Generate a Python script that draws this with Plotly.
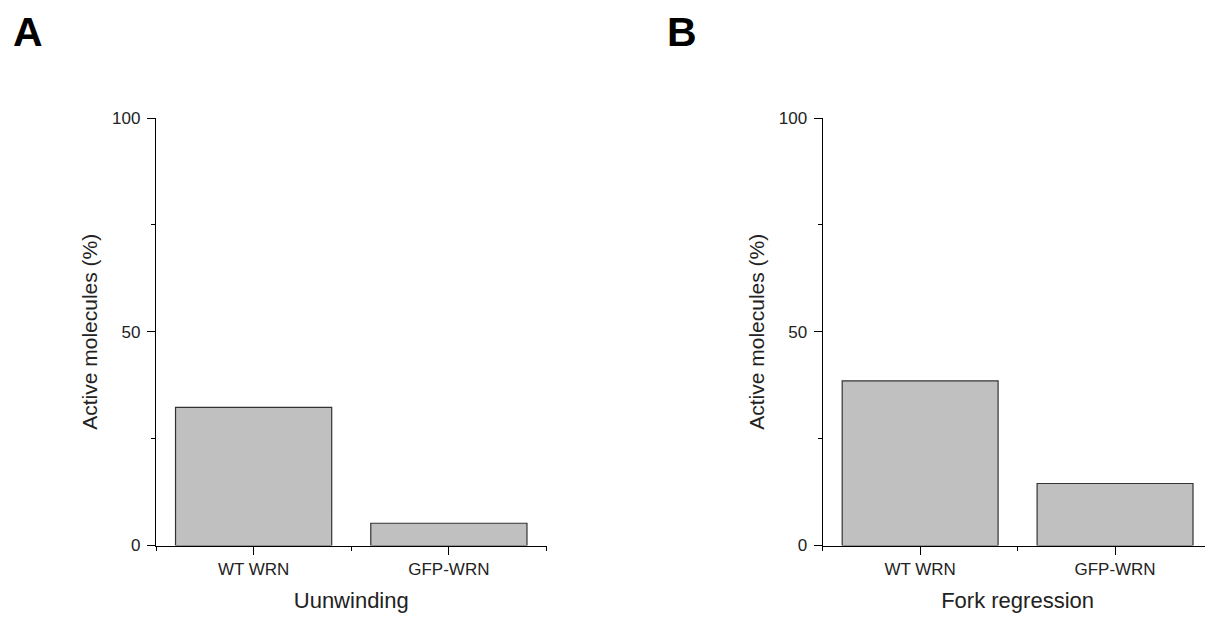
import plotly.graph_objects as go
from plotly.subplots import make_subplots

categories = ["WT WRN", "GFP-WRN"]
unwinding_values = [32.3, 5.2]
regression_values = [38.5, 14.5]
panel_titles = ["Uunwinding", "Fork regression"]
panel_letters = ["A", "B"]
y_title = "Active molecules (%)"
y_ticks = [0, 50, 100]

FONT = "Liberation Sans, Arial, sans-serif"
W, H = 1213, 617
OFF = 8  # page body margin

fig = make_subplots(rows=1, cols=2)

xpos = list(range(len(categories)))
for i, vals in enumerate([unwinding_values, regression_values]):
    fig.add_trace(go.Bar(x=xpos, y=vals, width=0.8,
                         marker=dict(color="#c0c0c0", line=dict(color="#333333", width=1.2)),
                         showlegend=False, hoverinfo="skip"), row=1, col=i + 1)

doms_x = [[(156 - OFF) / W, (546.5 - OFF) / W], [(822.7 - OFF) / W, (1212.5 - OFF) / W]]
dom_y = [1 - (545.5 - OFF) / H, 1 - (118 - OFF) / H]

axis_common = dict(showline=True, linecolor="black", linewidth=1.3, showgrid=False,
                   zeroline=False, ticks="outside", tickcolor="black", tickwidth=1.3,
                   ticklen=8, automargin=False,
                   tickfont=dict(family=FONT, size=17, color="#222"))

for i in range(2):
    xa = "xaxis" if i == 0 else "xaxis2"
    ya = "yaxis" if i == 0 else "yaxis2"
    fig.layout[xa].update(domain=doms_x[i], range=[-0.5, 1.5],
                          tickvals=xpos, ticktext=categories,
                          minor=dict(ticks="outside", ticklen=4, tickcolor="black",
                                     tickwidth=1.3, tick0=0.5, dtick=1),
                          title=dict(text=panel_titles[i], font=dict(family=FONT, size=22, color="#222"),
                                     standoff=14),
                          **axis_common)
    fig.layout[ya].update(domain=dom_y, range=[0, 100], tickvals=y_ticks,
                          ticklabelstandoff=3,
                          minor=dict(ticks="outside", ticklen=4, tickcolor="black",
                                     tickwidth=1.3, tick0=0, dtick=25),
                          title=dict(text=y_title, font=dict(family=FONT, size=21, color="#222"),
                                     standoff=8),
                          **axis_common)

letter_x = [27.5, 682]
for lx, letter in zip(letter_x, panel_letters):
    fig.add_annotation(text="<b>" + letter + "</b>", x=(lx - OFF) / W, y=1,
                       xref="paper", yref="paper", showarrow=False,
                       font=dict(family=FONT, size=41, color="black"),
                       xanchor="center", yanchor="top", borderpad=0)

fig.update_layout(width=W, height=H, margin=dict(l=0, r=0, t=0, b=0),
                  template="none", plot_bgcolor="white", paper_bgcolor="white",
                  bargap=0.2, font=dict(family=FONT))

fig.write_html("out.html")
